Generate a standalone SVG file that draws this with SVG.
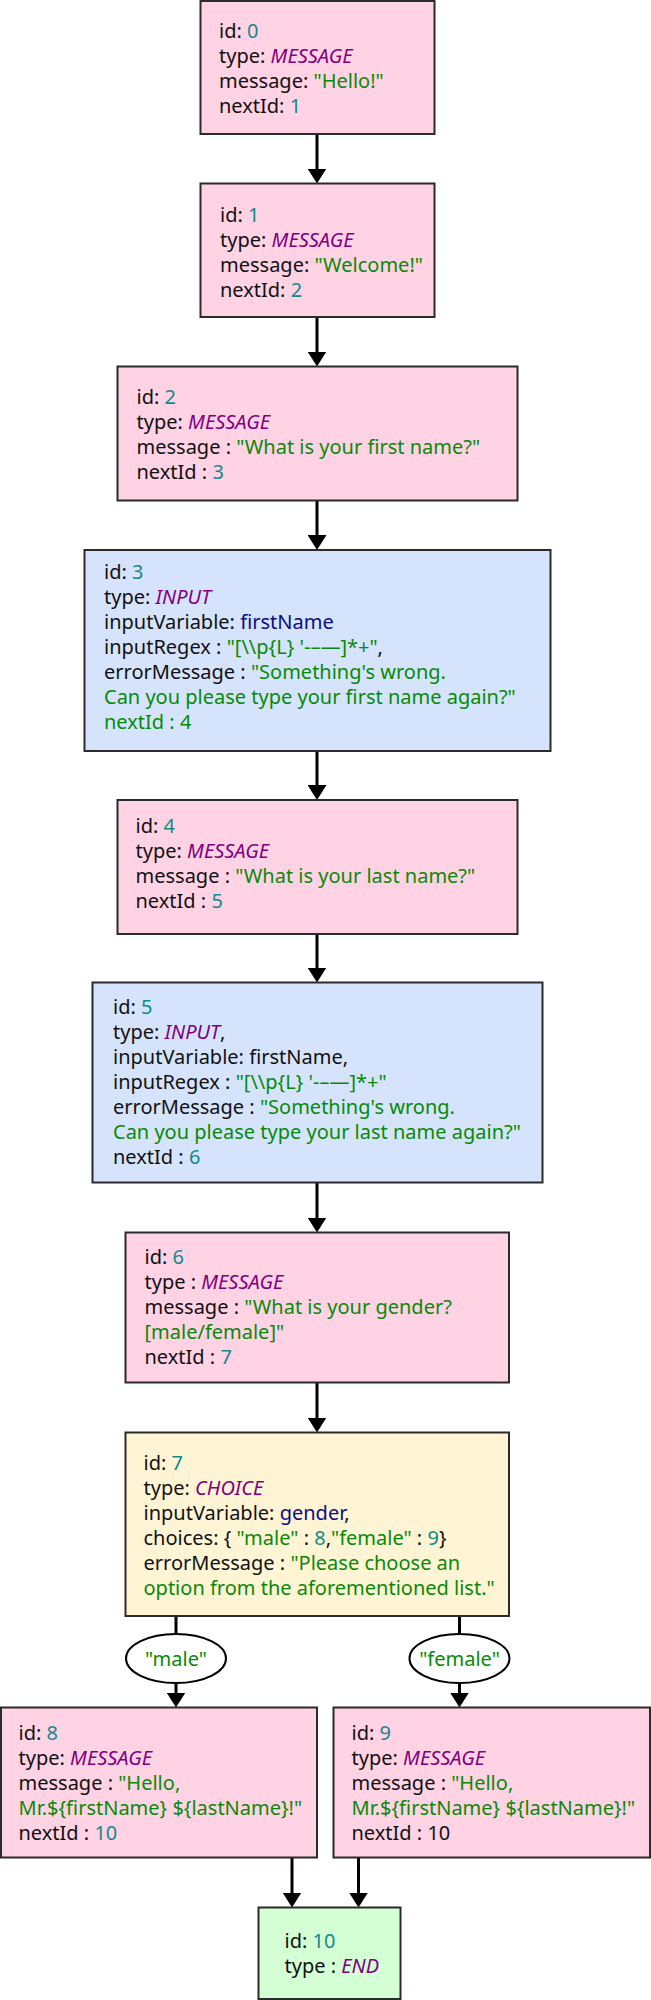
<svg xmlns="http://www.w3.org/2000/svg" width="651" height="2000" viewBox="0 0 651 2000">
<style>
.box{stroke:#2b2b2b;stroke-width:2}
.msg{fill:#ffd2e4}
.inp{fill:#d5e4fc}
.cho{fill:#fff5d5}
.end{fill:#d4ffd4}
.t{font-family:"Noto Sans","Open Sans",sans-serif;font-size:20px;fill:#111}
.n{fill:#14898a}
.ty{fill:#800080;font-style:italic}
.s{fill:#078a07}
.v{fill:#0c0c86}
.c{fill:none;stroke:#000;stroke-width:3}
.lbl{fill:#fff;stroke:#000;stroke-width:2}
</style>
<defs>
<marker id="ah" markerUnits="userSpaceOnUse" markerWidth="15" markerHeight="19" viewBox="0 0 15 19" refX="5" refY="9.5" orient="auto">
<path d="M0,0 L15,9.5 L0,19 Z" fill="#000"/>
</marker>
</defs>
<g id="connectors">
<path class="c" marker-end="url(#ah)" d="M317,134 V173.5"/>
<path class="c" marker-end="url(#ah)" d="M317,317 V356.5"/>
<path class="c" marker-end="url(#ah)" d="M317,500.5 V540"/>
<path class="c" marker-end="url(#ah)" d="M317,751 V790"/>
<path class="c" marker-end="url(#ah)" d="M317,934 V972.5"/>
<path class="c" marker-end="url(#ah)" d="M317,1182.5 V1222.5"/>
<path class="c" marker-end="url(#ah)" d="M317,1382.5 V1422.5"/>
<path class="c" d="M176,1616 V1634"/>
<path class="c" marker-end="url(#ah)" d="M176,1683 V1697.5"/>
<path class="c" d="M459.5,1616 V1634"/>
<path class="c" marker-end="url(#ah)" d="M459.5,1683 V1697.5"/>
<path class="c" marker-end="url(#ah)" d="M292,1857.5 V1897.5"/>
<path class="c" marker-end="url(#ah)" d="M358.5,1857.5 V1897.5"/>
</g>
<g id="node0">
<rect class="box msg" x="200.5" y="1" width="234" height="133"/>
<text class="t" x="219" y="37.5">id: <tspan class="n">0</tspan></text>
<text class="t" x="219" y="62.5">type: <tspan class="ty">MESSAGE</tspan></text>
<text class="t" x="219" y="87.5">message: <tspan class="s">"Hello!"</tspan></text>
<text class="t" x="219" y="112.5">nextId: <tspan class="n">1</tspan></text>
</g>
<g id="node1">
<rect class="box msg" x="200.5" y="183.5" width="234" height="133.5"/>
<text class="t" x="220" y="221.5">id: <tspan class="n">1</tspan></text>
<text class="t" x="220" y="246.5">type: <tspan class="ty">MESSAGE</tspan></text>
<text class="t" x="220" y="271.5">message: <tspan class="s">"Welcome!"</tspan></text>
<text class="t" x="220" y="296.5">nextId: <tspan class="n">2</tspan></text>
</g>
<g id="node2">
<rect class="box msg" x="117.5" y="366.5" width="400" height="134"/>
<text class="t" x="136.5" y="403.5">id: <tspan class="n">2</tspan></text>
<text class="t" x="136.5" y="428.5">type: <tspan class="ty">MESSAGE</tspan></text>
<text class="t" x="136.5" y="453.5">message : <tspan class="s">"What is your first name?"</tspan></text>
<text class="t" x="136.5" y="478.5">nextId : <tspan class="n">3</tspan></text>
</g>
<g id="node3">
<rect class="box inp" x="84.5" y="550" width="466" height="201"/>
<text class="t" x="104" y="578.5">id: <tspan class="n">3</tspan></text>
<text class="t" x="104" y="603.5">type: <tspan class="ty">INPUT</tspan></text>
<text class="t" x="104" y="628.5">inputVariable: <tspan class="v">firstName</tspan></text>
<text class="t" x="104" y="653.5">inputRegex : <tspan class="s">"[\\p{L} '-–—]*+"</tspan>,</text>
<text class="t" x="104" y="678.5">errorMessage : <tspan class="s">"Something's wrong.</tspan></text>
<text class="t s" x="104" y="703.5">Can you please type your first name again?"</text>
<text class="t s" x="104" y="728.5">nextId : 4</text>
</g>
<g id="node4">
<rect class="box msg" x="117.5" y="800" width="400" height="134"/>
<text class="t" x="135.5" y="833">id: <tspan class="n">4</tspan></text>
<text class="t" x="135.5" y="858">type: <tspan class="ty">MESSAGE</tspan></text>
<text class="t" x="135.5" y="883">message : <tspan class="s">"What is your last name?"</tspan></text>
<text class="t" x="135.5" y="908">nextId : <tspan class="n">5</tspan></text>
</g>
<g id="node5">
<rect class="box inp" x="92.5" y="982.5" width="450" height="200"/>
<text class="t" x="113" y="1013.5">id: <tspan class="n">5</tspan></text>
<text class="t" x="113" y="1038.5">type: <tspan class="ty">INPUT</tspan>,</text>
<text class="t" x="113" y="1063.5">inputVariable: firstName,</text>
<text class="t" x="113" y="1088.5">inputRegex : <tspan class="s">"[\\p{L} '-–—]*+"</tspan></text>
<text class="t" x="113" y="1113.5">errorMessage : <tspan class="s">"Something's wrong.</tspan></text>
<text class="t s" x="113" y="1138.5">Can you please type your last name again?"</text>
<text class="t" x="113" y="1163.5">nextId : <tspan class="n">6</tspan></text>
</g>
<g id="node6">
<rect class="box msg" x="125.5" y="1232.5" width="383.5" height="150"/>
<text class="t" x="144.5" y="1264">id: <tspan class="n">6</tspan></text>
<text class="t" x="144.5" y="1289">type : <tspan class="ty">MESSAGE</tspan></text>
<text class="t" x="144.5" y="1314">message : <tspan class="s">"What is your gender?</tspan></text>
<text class="t s" x="144.5" y="1339">[male/female]"</text>
<text class="t" x="144.5" y="1364">nextId : <tspan class="n">7</tspan></text>
</g>
<g id="node7">
<rect class="box cho" x="125.5" y="1432.5" width="383.5" height="183.5"/>
<text class="t" x="143.5" y="1469.5">id: <tspan class="n">7</tspan></text>
<text class="t" x="143.5" y="1494.5">type: <tspan class="ty">CHOICE</tspan></text>
<text class="t" x="143.5" y="1519.5">inputVariable: <tspan class="v">gender</tspan>,</text>
<text class="t" x="143.5" y="1544.5">choices: { <tspan class="s">"male"</tspan> : <tspan class="n">8</tspan>,<tspan class="s">"female"</tspan> : <tspan class="n">9</tspan>}</text>
<text class="t" x="143.5" y="1569.5">errorMessage : <tspan class="s">"Please choose an</tspan></text>
<text class="t s" x="143.5" y="1594.5">option from the aforementioned list."</text>
</g>
<g id="label-male">
<ellipse class="lbl" cx="176" cy="1658.5" rx="50" ry="24.5"/>
<text class="t s" x="176" y="1665.5" text-anchor="middle">"male"</text>
</g>
<g id="label-female">
<ellipse class="lbl" cx="459.5" cy="1658.5" rx="50" ry="24.5"/>
<text class="t s" x="459.5" y="1665.5" text-anchor="middle">"female"</text>
</g>
<g id="node8">
<rect class="box msg" x="1" y="1707.5" width="316" height="150"/>
<text class="t" x="18.5" y="1740">id: <tspan class="n">8</tspan></text>
<text class="t" x="18.5" y="1765">type: <tspan class="ty">MESSAGE</tspan></text>
<text class="t" x="18.5" y="1790">message : <tspan class="s">"Hello,</tspan></text>
<text class="t s" x="18.5" y="1815">Mr.${firstName} ${lastName}!"</text>
<text class="t" x="18.5" y="1840">nextId : <tspan class="n">10</tspan></text>
</g>
<g id="node9">
<rect class="box msg" x="333.5" y="1707.5" width="316.5" height="150"/>
<text class="t" x="351.5" y="1740">id: <tspan class="n">9</tspan></text>
<text class="t" x="351.5" y="1765">type: <tspan class="ty">MESSAGE</tspan></text>
<text class="t" x="351.5" y="1790">message : <tspan class="s">"Hello,</tspan></text>
<text class="t s" x="351.5" y="1815">Mr.${firstName} ${lastName}!"</text>
<text class="t" x="351.5" y="1840">nextId : 10</text>
</g>
<g id="node10">
<rect class="box end" x="258.5" y="1907.5" width="142" height="91.5"/>
<text class="t" x="284.5" y="1947.5">id: <tspan class="n">10</tspan></text>
<text class="t" x="284.5" y="1972.5">type : <tspan class="ty">END</tspan></text>
</g>
</svg>
